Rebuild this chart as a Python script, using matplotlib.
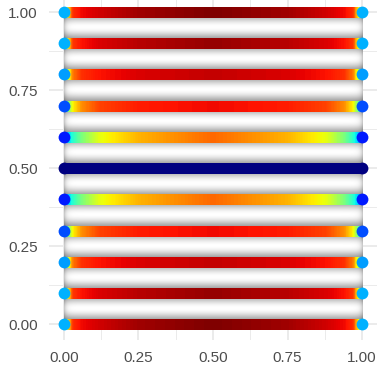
import numpy as np
import matplotlib
matplotlib.use("Agg")
import matplotlib.pyplot as plt
from matplotlib.collections import LineCollection

# line positions and the jet-colour value
line_y = [0.0, 0.1, 0.2, 0.3, 0.4, 0.5, 0.6, 0.7, 0.8, 0.9, 1.0]
x_ctrl = [0.0, 0.01, 0.03, 0.06, 0.12, 0.25, 0.5, 0.75, 0.88, 0.94, 0.97, 0.99, 1.0]
row_vals = {
    0.0: [0.30, 0.62, 0.86, 0.90, 0.93, 0.97, 1.00],
    0.1: [0.30, 0.60, 0.85, 0.89, 0.92, 0.95, 0.98],
    0.2: [0.28, 0.55, 0.78, 0.86, 0.89, 0.92, 0.94],
    0.3: [0.20, 0.45, 0.65, 0.76, 0.84, 0.88, 0.90],
    0.4: [0.15, 0.30, 0.40, 0.50, 0.63, 0.72, 0.80],
    0.5: [0.0, 0.0, 0.0, 0.0, 0.0, 0.0, 0.0],
}
for k in [0.6, 0.7, 0.8, 0.9, 1.0]:
    row_vals[k] = row_vals[round(1.0 - k, 1)]

xticks = [0.0, 0.25, 0.5, 0.75, 1.0]
tick_labels = ["0.00", "0.25", "0.50", "0.75", "1.00"]

plt.rcParams['font.family'] = ['Liberation Sans', 'DejaVu Sans']
fig = plt.figure(figsize=(3.83, 3.66), dpi=100)
ax = fig.add_axes([49/383, 26/366, 328/383, 343.6/366])
ax.set_xlim(-0.05, 1.05)
ax.set_ylim(-0.05, 1.05)
for s in ax.spines.values():
    s.set_visible(False)

# grid (theme_minimal look)
for v in xticks:
    ax.axvline(v, color="#EBEBEB", lw=1.4, zorder=0)
    ax.axhline(v, color="#EBEBEB", lw=1.4, zorder=0)
for v in [0.125, 0.375, 0.625, 0.875]:
    ax.axvline(v, color="#EBEBEB", lw=0.7, zorder=0)
    ax.axhline(v, color="#EBEBEB", lw=0.7, zorder=0)

# grey tube shading between the lines
gx = np.linspace(0, 1, 400)
gy = np.linspace(0, 1, 600)
GX, GY = np.meshgrid(gx, gy)
t = (GY * 10) % 1.0
shade = 0.55 + 0.45 * np.sin(np.pi * t) ** 1.8
dx = np.minimum(GX, 1 - GX)
shade = shade * (1 - 0.22 * np.exp(-dx / 0.008))
ax.imshow(shade, extent=[0, 1, 0, 1], origin="lower", cmap="gray",
          vmin=0, vmax=1, aspect="auto", interpolation="bilinear", zorder=1)

cmap = plt.get_cmap("jet")
xs = np.linspace(0, 1, 400)
for y in line_y:
    vals = row_vals[y]
    full = vals + vals[-2::-1]
    c = np.interp(xs, x_ctrl, full)
    pts = np.column_stack([xs, np.full_like(xs, y)])
    segs = np.stack([pts[:-1], pts[1:]], axis=1)
    cap = "round" if y == 0.5 else "butt"
    lc = LineCollection(segs, colors=cmap((c[:-1] + c[1:]) / 2), linewidths=6.6,
                        capstyle=cap, antialiaseds=False, zorder=3)
    ax.add_collection(lc)
    ax.plot([0, 1], [y, y], "o", ms=8.5, mec="none",
            color=cmap(vals[0]), zorder=4)

ax.set_xticks(xticks)
ax.set_xticklabels(tick_labels)
ax.set_yticks(xticks)
ax.set_yticklabels(tick_labels)
ax.tick_params(length=0, labelsize=11, labelcolor="#4D4D4D", pad=8)

fig.savefig("out.png", dpi=100)
